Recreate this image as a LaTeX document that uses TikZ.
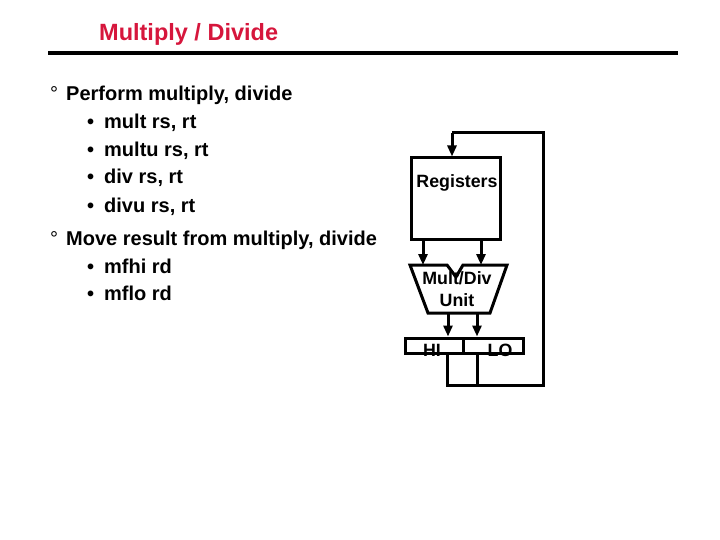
\documentclass[tikz,border=0pt]{standalone}
\usepackage{fontspec}
\setmainfont{Liberation Sans}
\usetikzlibrary{arrows.meta}
\definecolor{titlered}{RGB}{214,22,60}
\tikzset{
  body/.style={anchor=base west,inner sep=0pt,font=\fontsize{20}{24}\selectfont\bfseries},
  deg/.style={anchor=base west,inner sep=0pt,font=\fontsize{20}{24}\selectfont},
  lbl/.style={inner sep=0pt,font=\fontsize{17.8}{20}\selectfont\bfseries},
  wire/.style={line width=3pt},
  arr/.style={line width=3pt,-{Triangle[length=11pt,width=9pt]}},
  blk/.style={draw,line width=3pt,inner sep=0pt}
}
\begin{document}
\begin{tikzpicture}[x=1pt,y=-1pt]
\useasboundingbox (0,0) rectangle (720,540);
% title
\node[anchor=base west,inner sep=0pt,text=titlered,font=\fontsize{23.5}{27}\selectfont\bfseries] (title) at (99,41) {Multiply / Divide};
\draw[line width=3.2pt] (48,53) -- (678,53);
% text
\node[deg] (d1) at (50,101) {°};
\node[body] (t1) at (66,101) {Perform multiply, divide};
\node[body] (b1) at (87,129) {•}; \node[body] (i1) at (104,129) {mult rs, rt};
\node[body] (b2) at (87,157) {•}; \node[body] (i2) at (104,157) {multu rs, rt};
\node[body] (b3) at (87,184) {•}; \node[body] (i3) at (104,184) {div rs, rt};
\node[body] (b4) at (87,212) {•}; \node[body] (i4) at (104,212) {divu rs, rt};
\node[deg] (d2) at (50,245) {°};
\node[body] (t2) at (66,245) {Move result from multiply, divide};
\node[body] (b5) at (87,273) {•}; \node[body] (i5) at (104,273) {mfhi rd};
\node[body] (b6) at (87,300) {•}; \node[body] (i6) at (104,300) {mflo rd};
% registers
\node[blk,minimum width=89pt,minimum height=81pt] (reg) at (455.5,198.5) {};
\node[lbl] (regt) at (457,183) {Registers};
% mult/div unit
\coordinate (mtl) at (410,265);
\coordinate (mnl) at (447,265);
\coordinate (mnb) at (456,277);
\coordinate (mnr) at (463,265);
\coordinate (mtr) at (507,265);
\coordinate (mbr) at (490,313);
\coordinate (mbl) at (428,313);
\draw[wire,line join=miter] (mtl) -- (mnl) -- (mnb) -- (mnr) -- (mtr) -- (mbr) -- (mbl) -- cycle;
\node[lbl] (mdt) at (457,278) {Mult/Div};
\node[lbl] (unt) at (457,300) {Unit};
% HI / LO
\node[blk,minimum width=58pt,minimum height=15pt] (hi) at (434,345.5) {};
\node[blk,minimum width=60pt,minimum height=15pt] (lo) at (493,345.5) {};
\node[lbl] (hit) at (432,350) {HI};
\node[lbl] (lot) at (500,350) {LO};
% arrows registers -> unit
\draw[arr] (reg.south -| 423,0) -- (423,265);
\draw[arr] (reg.south -| 481,0) -- (481,265);
% arrows unit -> hi/lo
\draw[arr] (448,313) -- (hi.north -| 448,0);
\draw[arr] (477,313) -- (lo.north -| 477,0);
% feedback
\coordinate (fb1) at (447,385);
\coordinate (fb2) at (477,385);
\coordinate (fbr) at (543,385);
\coordinate (fbt) at (543,133);
\coordinate (fbl) at (452,133);
\draw[wire,line join=miter] (hi.south -| fb1) -- (fb1) -- (fbr) -- (fbt) -- (fbl);
\draw[wire] (lo.south -| fb2) -- (fb2);
\draw[arr] (fbl) -- (reg.north -| fbl);
\end{tikzpicture}
\end{document}
